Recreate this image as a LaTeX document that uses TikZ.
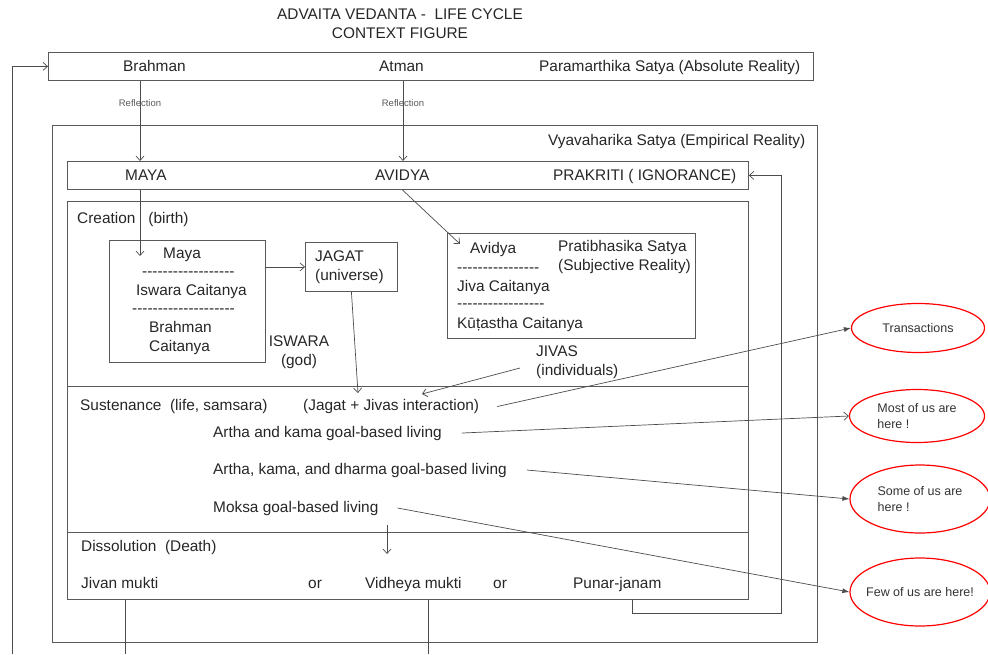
\documentclass[tikz,border=0pt]{standalone}
\usepackage{fontspec}
\setmainfont{Liberation Sans}
\usetikzlibrary{arrows.meta,shapes.geometric}
\newcommand{\hyphens}[1]{\foreach \i in {1,...,#1}{-}}
\begin{document}
\begin{tikzpicture}[x=1pt,y=-1pt,>={Straight Barb[length=4.5pt,width=8pt]},
box/.style = {draw=black!65, line width=0.8pt, anchor=north west, inner sep=0pt},
txt/.style = {anchor=base west, inner sep=0pt, text=black!85, font=\fontsize{15.4}{19}\selectfont},
two/.style = {anchor=west, inner sep=0pt, align=left, text=black!85, font=\fontsize{15.4}{19}\selectfont},
refl/.style = {inner sep=0pt, text=black!65, font=\fontsize{9.5}{11}\selectfont},
oval/.style = {draw=red, line width=1.2pt, ellipse, inner xsep=-14pt, inner ysep=0pt, align=left, text=black!80, font=\fontsize{12.5}{16}\selectfont},
dot/.style = {fill=black, inner sep=0pt, minimum size=4pt},
ln/.style = {draw=black!70, line width=0.7pt},
fill/.style = {-{Latex[length=7pt,width=5pt]}},
]
\useasboundingbox (0,0) rectangle (988,654);
\node (P) at (48,52)[box, minimum width=765, minimum height=28] {};
\node (V) at (52,125)[box, minimum width=765, minimum height=517] {};
\node (K) at (67,161)[box, minimum width=681, minimum height=28] {};
\node (C) at (67,201)[box, minimum width=681, minimum height=185] {};
\node (S) at (67,386)[box, minimum width=681, minimum height=146] {};
\node (D) at (67,532)[box, minimum width=681, minimum height=67] {};
\node (Yb) at (109,240)[box, minimum width=156, minimum height=122] {};
\node (Jb) at (305,242)[box, minimum width=92, minimum height=49] {};
\node (Ab) at (447,233)[box, minimum width=248, minimum height=105] {};

\node (T) at (918,328)[oval, minimum width=133, minimum height=49] {Transactions};
\node (M) at (917,416)[oval, minimum width=135, minimum height=53] {Most of us are\\here !};
\node (So) at (920,499)[oval, minimum width=140, minimum height=68] {Some of us are\\here !};
\node (F) at (920,592)[oval, minimum width=140, minimum height=68] {Few of us are here!};

\node (tt) at (400,24)[align=center, inner sep=0pt, text=black!85, font=\fontsize{15.4}{19}\selectfont] {ADVAITA VEDANTA -\ \ LIFE CYCLE\\CONTEXT FIGURE};
\node (br) at (123,71)[txt] {Brahman};
\node (at) at (379,71)[txt] {Atman};
\node (pa) at (539,71)[txt] {Paramarthika Satya (Absolute Reality)};
\node (r1) at (140,103)[refl] {Reflection};
\node (r2) at (403,103)[refl] {Reflection};
\node (vy) at (548,145)[txt] {Vyavaharika Satya (Empirical Reality)};
\node (my) at (125,180.5)[txt] {MAYA};
\node (av) at (375,180.5)[txt] {AVIDYA};
\node (pr) at (553,180.5)[txt] {PRAKRITI ( IGNORANCE)};
\node (cr) at (77,223.5)[txt] {Creation\hspace{13pt}(birth)};
\node (y1) at (163,258)[txt] {Maya};
\node (y2) at (142,276)[txt] {\hyphens{18}};
\node (y3) at (136,295.5)[txt] {Iswara Caitanya};
\node (y4) at (132,313)[txt] {\hyphens{20}};
\node (y5) at (149,338)[two] {Brahman\\Caitanya};
\node (is) at (299,352)[two, anchor=center, align=center] {ISWARA\\(god)};
\node (jg) at (315,267)[two] {JAGAT\\(universe)};
\node (a1) at (470,253.5)[txt] {Avidya};
\node (a2) at (457,272)[txt] {\hyphens{16}};
\node (a3) at (457,291)[txt] {Jiva Caitanya};
\node (a4) at (457,308)[txt] {\hyphens{17}};
\node (a5) at (457,328)[txt] {Kūṭastha Caitanya};
\node (ps) at (558,257)[two] {Pratibhasika Satya\\(Subjective Reality)};
\node (d1) at (714,277)[dot] {};
\node (d2) at (727,277)[dot] {};
\node (jv) at (536,362.5)[two] {JIVAS\\(individuals)};
\node (su) at (80,410.5)[txt] {Sustenance\ \ (life, samsara)};
\node (in) at (303,410.5)[txt] {(Jagat + Jivas interaction)};
\node (l1) at (213,437)[txt] {Artha and kama goal-based living};
\node (l2) at (213,474)[txt] {Artha, kama, and dharma goal-based living};
\node (l3) at (213,512)[txt] {Moksa goal-based living};
\node (ds) at (81,551.5)[txt] {Dissolution\ \ (Death)};
\node (jm) at (81,588.5)[txt] {Jivan mukti};
\node (o1) at (308,588.5)[txt] {or};
\node (vm) at (365,588.5)[txt] {Vidheya mukti};
\node (o2) at (493,588.5)[txt] {or};
\node (pj) at (573,588.5)[txt] {Punar-janam};

\coordinate (e1) at (140,256);
\coordinate (e2) at (460,244);
\coordinate (e3) at (358,393);
\coordinate (e4) at (520,368);
\coordinate (e5) at (422,394);
\coordinate (e6) at (387,525);
\coordinate (e7) at (387,554);
\coordinate (b1) at (125,654);
\coordinate (b2) at (428,654);
\coordinate (b3) at (12,654);
\coordinate (f1) at (632,613);
\coordinate (f2) at (781,613);

\draw[ln,->] (P.south -| r1) -- (K.north -| r1);
\draw[ln,->] (P.south -| r2) -- (K.north -| r2);
\draw[ln,->] (K.south -| r1) -- (e1);
\draw[ln,->] (K.south -| av) -- (e2);
\draw[ln,->] (Yb.east |- Jb) -- (Jb.west);
\draw[ln,->] (Jb.south) -- (e3);
\draw[ln,->] (e4) -- (e5);
\draw[ln,->] (e6) -- (e7);
\draw[ln,fill] ([xshift=18pt]in.east) -- (T.west);
\draw[ln,->] ([xshift=20pt]l1.east) -- (M.west);
\draw[ln,fill] ([xshift=20pt]l2.east) -- (So.west);
\draw[ln,fill] ([xshift=19pt]l3.east) -- (F.west);
\draw[ln] (D.south -| b1) -- (b1);
\draw[ln] (D.south -| b2) -- (b2);
\draw[ln,->] (b3) |- (P.west);
\draw[ln,->] (D.south -| f1) -- (f1) -- (f2) |- (K.east);
\end{tikzpicture}
\end{document}
